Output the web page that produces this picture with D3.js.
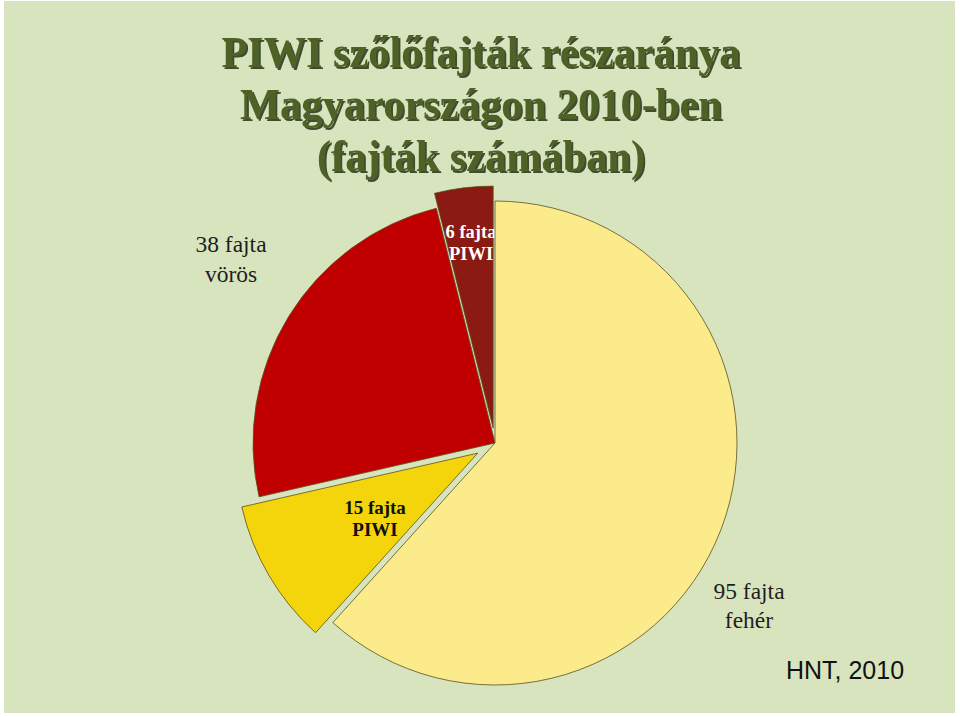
<!DOCTYPE html>
<html>
<head>
<meta charset="utf-8">
<script src="https://cdn.jsdelivr.net/npm/d3@7/dist/d3.min.js"></script>
<style>
  html, body { margin: 0; padding: 0; background: #fff; }
</style>
</head>
<body>
<div id="chart"></div>
<script>
// adatok
const categories = ["95 fajta fehér", "15 fajta PIWI", "38 fajta vörös", "6 fajta PIWI"];
const values = [95, 15, 38, 6];
const labelLines = [["95 fajta", "fehér"], ["15 fajta", "PIWI"], ["38 fajta", "vörös"], ["6 fajta", "PIWI"]];
const titleLines = ["PIWI szőlőfajták részaránya", "Magyarországon 2010-ben", "(fajták számában)"];
const sourceText = "HNT, 2010";

const width = 960;
const height = 717;
const cx = 495, cy = 443, radius = 242;

const colors = ["#FBEB8B", "#F4D50C", "#C00000", "#8B1A12"];
const explode = [0, 20, 0, 15];
const titleWidths = [519, 482, 328];

const svg = d3.select("#chart")
    .append("svg")
    .attr("width", width)
    .attr("height", height);

const defs = svg.append("defs");
defs.append("filter")
    .attr("id", "shadow")
    .attr("x", "-5%").attr("y", "-20%")
    .attr("width", "110%").attr("height", "140%")
    .append("feDropShadow")
    .attr("dx", 2).attr("dy", 2)
    .attr("stdDeviation", 0.6)
    .attr("flood-color", "#1f2610")
    .attr("flood-opacity", 0.8);

// háttér
svg.append("rect")
    .attr("x", 4).attr("y", 1)
    .attr("width", width - 9).attr("height", height - 5)
    .attr("fill", "#D8E4BE");

// cím
const title = svg.append("g")
    .attr("font-family", "'Liberation Serif', 'Times New Roman', serif")
    .attr("font-weight", "bold")
    .attr("font-size", "45px")
    .attr("text-anchor", "middle")
    .attr("fill", "#4F6228")
    .attr("filter", "url(#shadow)");

titleLines.forEach(function (t, i) {
    title.append("text")
        .attr("x", 481).attr("y", 67 + i * 52)
        .attr("textLength", titleWidths[i])
        .attr("lengthAdjust", "spacingAndGlyphs")
        .text(t);
});

const pie = d3.pie().sort(null).value(d => d)(values);
const arc = d3.arc().innerRadius(0).outerRadius(radius);

const g = svg.append("g").attr("transform", "translate(" + cx + "," + cy + ")");

function offset(d, i) {
    const a = (d.startAngle + d.endAngle) / 2;
    return [Math.sin(a) * explode[i], -Math.cos(a) * explode[i]];
}

// a kis szelet felirata a fehér szelet alá kerül
const drawOrder = [3, 2, 1, 0];
drawOrder.forEach(function (i) {
    const d = pie[i];
    const o = offset(d, i);
    g.append("path")
        .attr("d", arc(d))
        .attr("transform", "translate(" + o[0] + "," + o[1] + ")")
        .attr("fill", colors[i])
        .attr("stroke", "#5b5120")
        .attr("stroke-width", 0.8);
    if (i === 3) {
        const t = g.append("text")
            .attr("font-family", "'Liberation Serif', 'Times New Roman', serif")
            .attr("font-weight", "bold")
            .attr("font-size", "18.5px")
            .attr("fill", "#ffffff")
            .attr("text-anchor", "middle");
        labelLines[i].forEach(function (l, k) {
            t.append("tspan").attr("x", -24).attr("y", -205 + k * 22).text(l);
        });
    }
});

// feliratok
const labelPos = [
    { x: 749, y: 599, size: 23.5, weight: "normal", fill: "#1e1e1e", lh: 29 },
    { x: 375, y: 514, size: 19, weight: "bold", fill: "#111111", lh: 22 },
    { x: 231, y: 252, size: 23.5, weight: "normal", fill: "#1e1e1e", lh: 30 }
];
labelPos.forEach(function (p, i) {
    const t = svg.append("text")
        .attr("font-family", "'Liberation Serif', 'Times New Roman', serif")
        .attr("font-weight", p.weight)
        .attr("font-size", p.size + "px")
        .attr("fill", p.fill)
        .attr("text-anchor", "middle");
    labelLines[i].forEach(function (l, k) {
        t.append("tspan").attr("x", p.x).attr("y", p.y + k * p.lh).text(l);
    });
});

svg.append("text")
    .attr("x", 845).attr("y", 679)
    .attr("text-anchor", "middle")
    .attr("font-family", "'Liberation Sans', Arial, sans-serif")
    .attr("font-size", "25px")
    .attr("fill", "#111")
    .text(sourceText);
</script>
</body>
</html>
